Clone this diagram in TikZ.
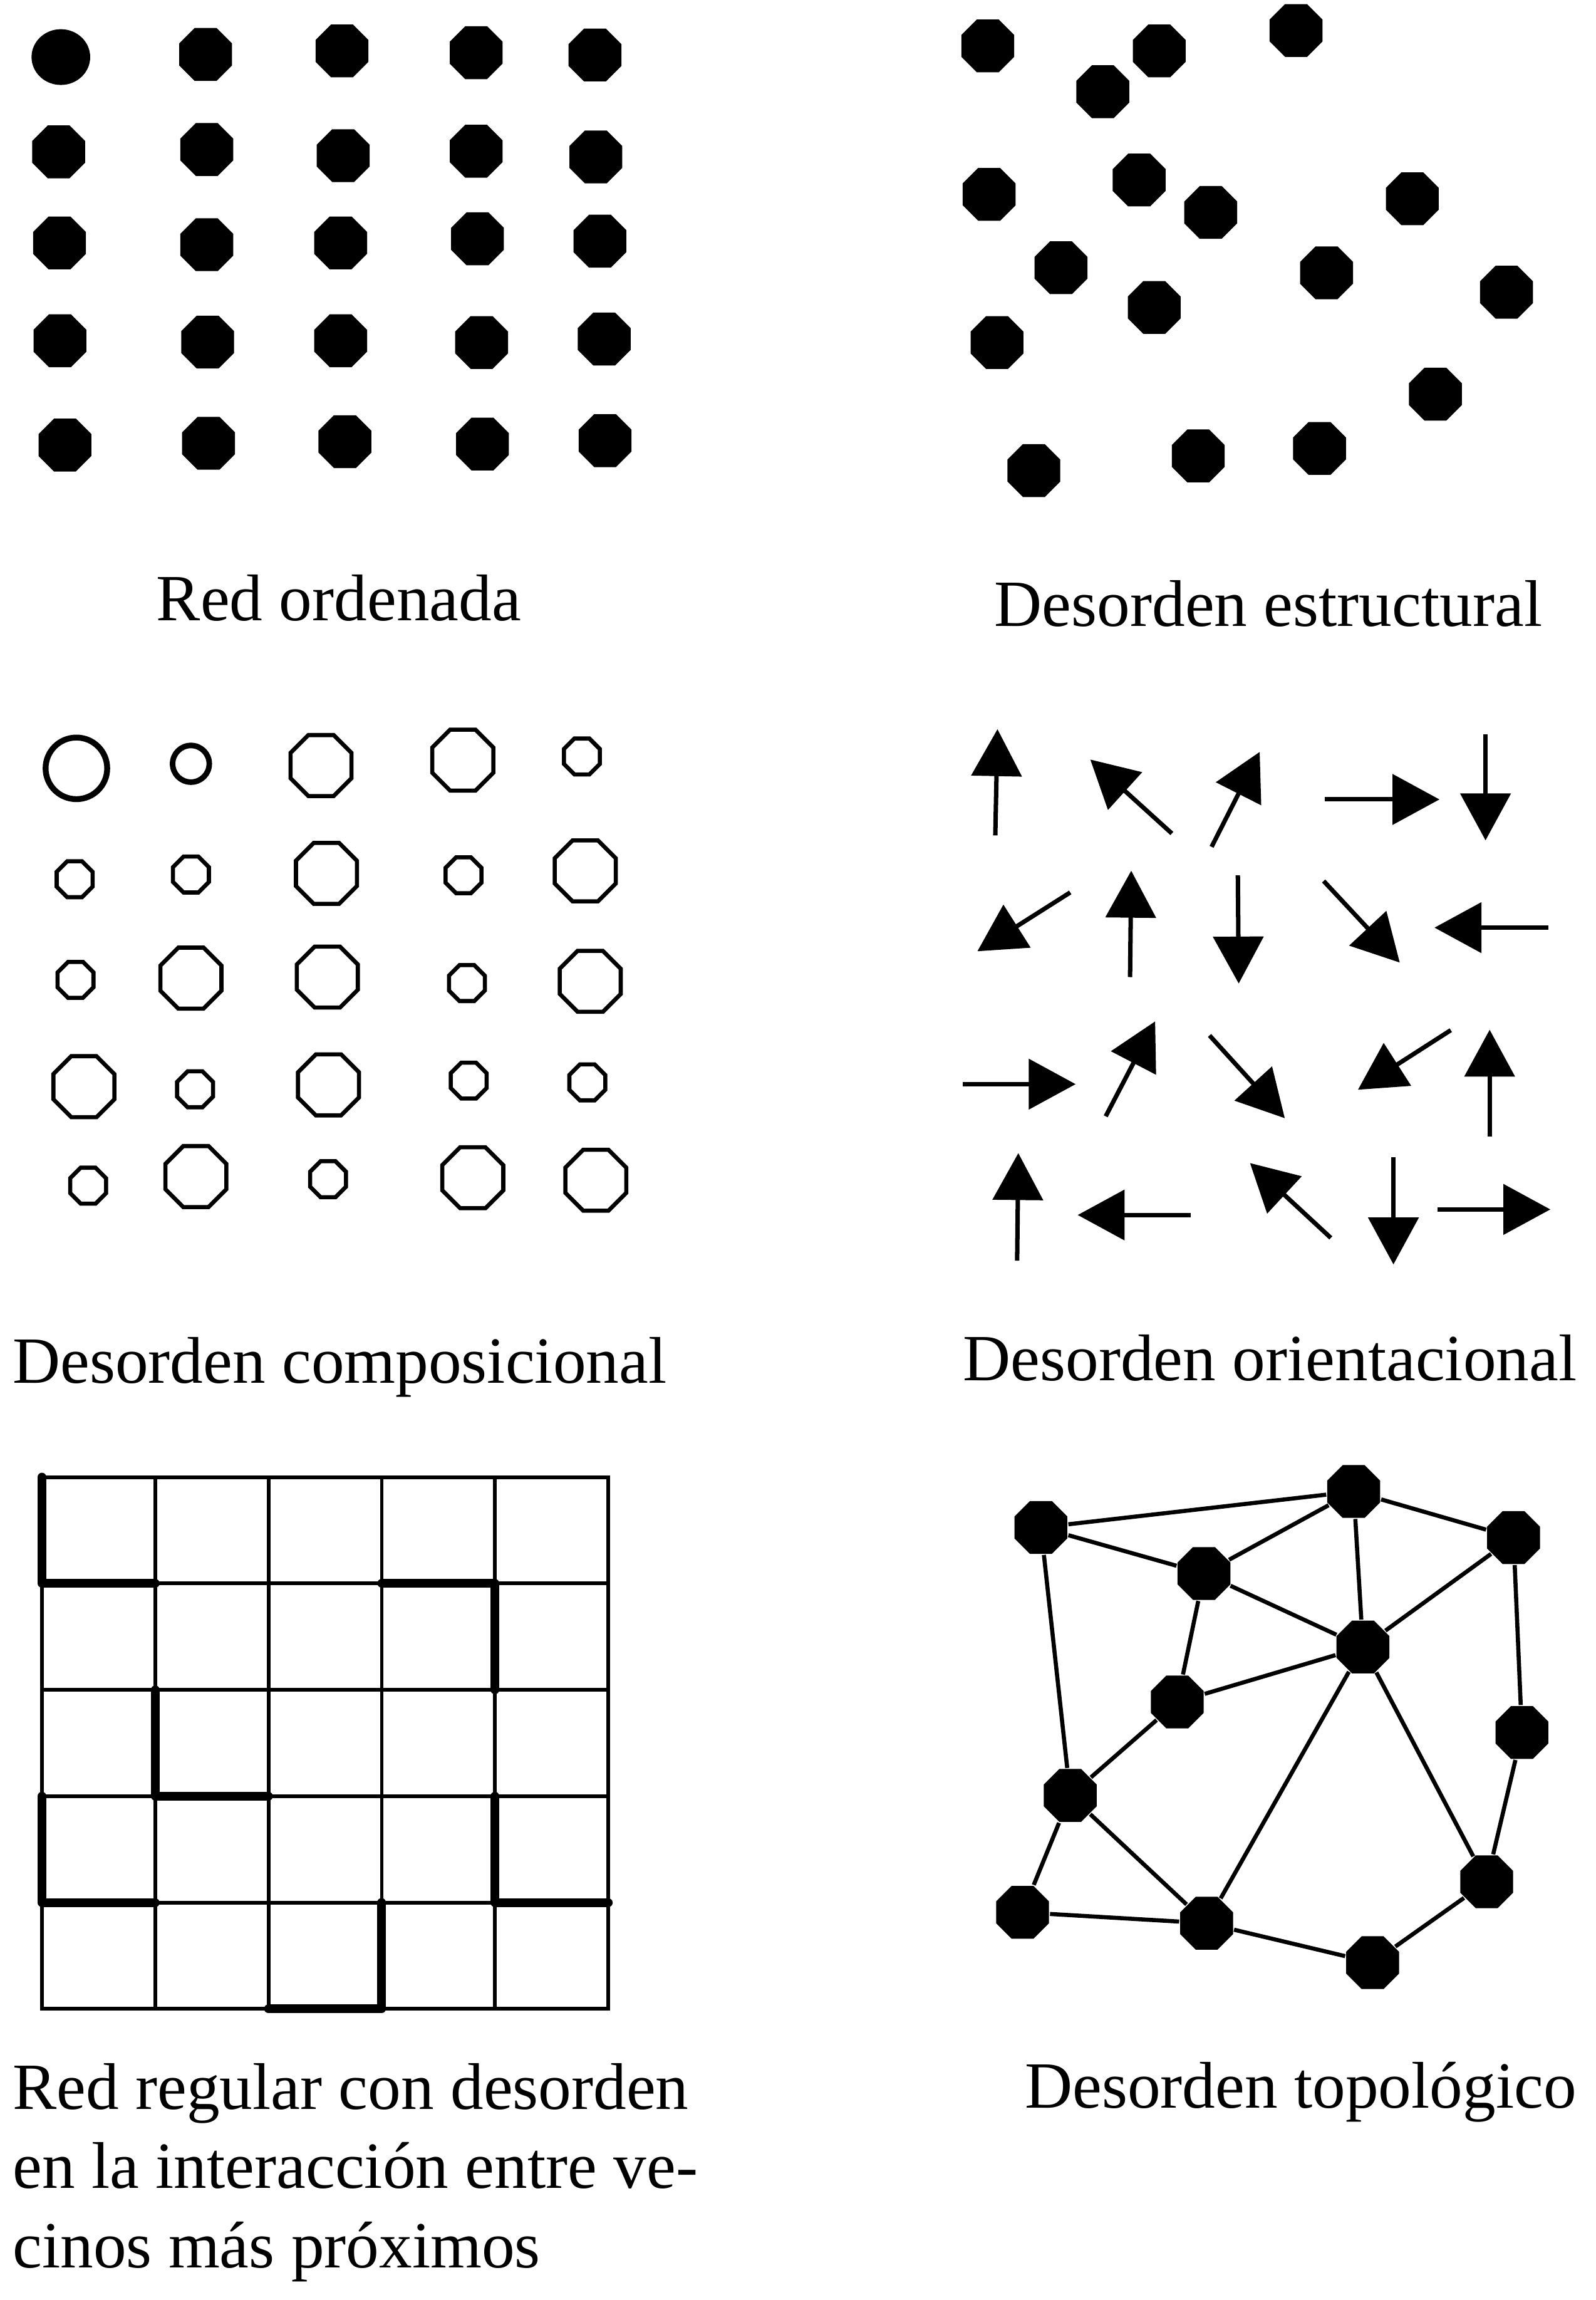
\documentclass[tikz,border=0pt]{standalone}
\usepackage{fontspec}
\setmainfont{Liberation Serif}
\usetikzlibrary{arrows.meta,shapes.geometric}

\begin{document}
\begin{tikzpicture}[x=0.1mm, y=-0.1mm,
  dot/.style={regular polygon, regular polygon sides=8, fill=black,
    inner sep=0pt, minimum size=3.9mm},
  ring/.style={regular polygon, regular polygon sides=8, draw=black,
    line width=0.28mm, inner sep=0pt},
  bigring/.style={ring, minimum size=4.5mm},
  smallring/.style={ring, minimum size=2.65mm},
  spin/.style={line width=0.3mm, -{Triangle[length=3.2mm, width=3.4mm]}},
  gridline/.style={line width=0.25mm, line cap=rect},
  bond/.style={line width=0.6mm, line cap=round, line join=round},
  link/.style={line width=0.28mm},
  capt/.style={font=\fontsize{12.8}{15.4}\selectfont, inner sep=0pt}]
\useasboundingbox (0,0) rectangle (1088,1568);

% --- ordered lattice
\node[ellipse, fill=black, inner sep=0pt, minimum width=4mm,
  minimum height=3.8mm] (o1) at (41.5,38.9) {};
\foreach \x/\y [count=\n from 2] in {140.2/37.1, 233.2/34.7, 324.7/35.9, 405.7/37.5,
    40/103.5, 141/101.9, 234/106.1, 324.7/103.1, 406.3/107,
    40.6/165.6, 141/166.8, 232.3/165.6, 325.6/162.8, 409.1/164.4,
    40.9/232.3, 141.6/233.2, 232.3/232.3, 328.4/233.5, 412/231.1,
    44.3/303.4, 142.2/302.2, 235.2/301.1, 329/302.7, 412.6/300.4}
  \node[dot] (o\n) at (\x,\y) {};

% --- structural disorder
\foreach \x/\y [count=\n] in {673.6/31.3, 790.5/34.7, 883.8/20.8, 752/62.5,
    674.5/132.5, 776.8/122.7, 825.6/144.8, 963.1/135.5, 723.5/182.5,
    904.6/186, 1027.3/199.2, 787.1/209.6, 679.9/233.5, 978.8/268.7,
    705/320.8, 817.1/310.8, 899.8/305.7}
  \node[dot] (s\n) at (\x,\y) {};

% --- compositional disorder
\node[circle, draw=black, line width=0.4mm, inner sep=0pt,
  minimum size=4.2mm] (c1) at (52.1,523.8) {};
\node[circle, draw=black, line width=0.38mm, inner sep=0pt,
  minimum size=2.5mm] (c2) at (130.2,520.7) {};
\foreach \x/\y/\s [count=\n from 3] in {218.9/521.9/bigring, 315.6/518.2/bigring,
    396.8/515.7/smallring,
    50.9/599.4/smallring, 130.2/596.2/smallring, 222.6/595.4/bigring,
    316.1/596.7/smallring, 399.1/593.7/bigring,
    51.5/668/smallring, 130.2/666.8/bigring, 223.2/666.1/bigring,
    318.4/670.2/smallring, 402.5/669/bigring,
    57.2/740.8/bigring, 133/742.6/smallring, 224/739.6/bigring,
    319.6/736.7/smallring, 400.5/737.9/smallring,
    60.1/808.3/smallring, 133.6/802.1/bigring, 223.7/803.9/smallring,
    322.4/802.9/bigring, 406.3/804.6/bigring}
  \node[\s] (c\n) at (\x,\y) {};

% --- orientational disorder (tail -> tip)
\foreach \a/\b/\c/\d in {678.7/569.5/680.2/497.1, 799.1/568.2/743.5/517.8,
    826.2/577.3/859/512.6, 903.2/545/981.6/545, 1013/500.4/1013/572.9,
    729.8/608.4/666.5/648.5, 770.6/666.1/771.4/593.6, 844.1/596.7/844.7/670.5,
    902.6/600.6/954.5/656.2, 1055.8/632.4/978.2/632.4,
    656.5/739.1/733.5/739.1, 754/761/787.7/696.3, 824.8/705.9/876.1/762.3,
    989.3/702.3/926/742.9, 1015.8/774.8/1015.8/702,
    693.6/859.4/694.4/786.1, 811.9/828.3/734.9/828.3, 907.5/843.9/852.4/792.9,
    950.2/788.7/950.2/862, 980.2/824.5/1057.2/824.5}
  \draw[spin] (\a,\b) -- (\c,\d);

% --- regular lattice, disordered bonds
\foreach \i in {0,...,5}
  \foreach \j in {0,...,5}
    \coordinate (g\i\j) at ({28.6+77.24*\i},{1007+72.5*\j});
\foreach \i in {0,...,5}
  \draw[gridline] (g\i0) -- (g\i5);
\foreach \j in {0,...,5}
  \draw[gridline] (g0\j) -- (g5\j);
\draw[bond] (g00) -- (g01) -- (g11);
\draw[bond] (g31) -- (g41) -- (g42);
\draw[bond] (g12) -- (g13) -- (g23);
\draw[bond] (g03) -- (g04) -- (g14);
\draw[bond] (g43) -- (g44) -- (g54);
\draw[bond] (g34) -- (g35) -- (g25);

% --- topological disorder
\node[dot] (A) at (709.8,1041.3) {};
\node[dot] (B) at (923.1,1016.8) {};
\node[dot] (C) at (1032.1,1048.2) {};
\node[dot] (D) at (821,1072.7) {};
\node[dot] (E) at (929.4,1122.8) {};
\node[dot] (F) at (802.8,1160.3) {};
\node[dot] (G) at (1037.8,1181.1) {};
\node[dot] (H) at (729.8,1224) {};
\node[dot] (I) at (1013.8,1282.9) {};
\node[dot] (J) at (697.3,1303.7) {};
\node[dot] (K) at (822.8,1311.1) {};
\node[dot] (L) at (936,1338) {};
\foreach \u/\v in {A/B, A/D, A/H, B/D, B/E, B/C, C/E, C/G, D/E, D/F,
    E/F, E/K, E/I, F/H, H/J, H/K, J/K, K/L, L/I, I/G}
  \draw[link] (\u) -- (\v);

% --- captions
\node[capt, anchor=base] (t1) at (231,423) {Red ordenada};
\node[capt, anchor=base] (t2) at (865,427) {Desorden estructural};
\node[capt, anchor=base west] (t3) at (8,943) {Desorden composicional};
\node[capt, anchor=base] (t4) at (866,941) {Desorden orientacional};
\node[capt, anchor=base west, align=left] (t5) at (8,1546)
  {Red regular con desorden\\en la interacci\'on entre ve-\\cinos m\'as pr\'oximos};
\node[capt, anchor=base] (t6) at (887,1437) {Desorden topol\'ogico};
\end{tikzpicture}
\end{document}
